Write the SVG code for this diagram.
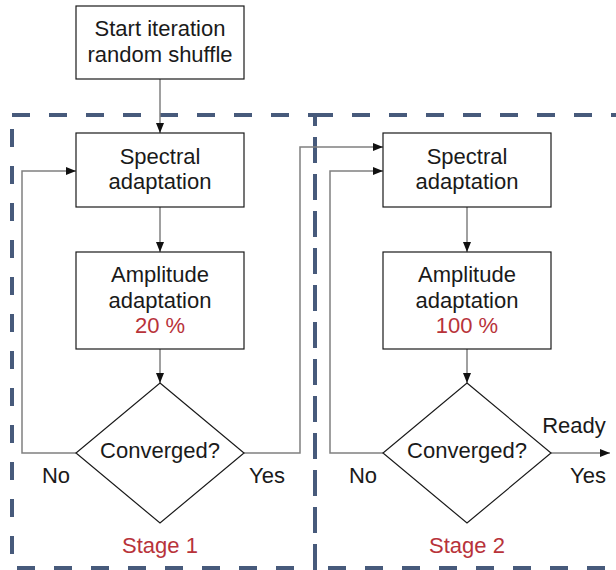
<svg xmlns="http://www.w3.org/2000/svg" width="616" height="570" viewBox="0 0 616 570">
<defs>
<style>
.box{fill:#fff;stroke:#1a1a1a;stroke-width:1.2}
.stage{fill:none;stroke:#475a7b;stroke-width:4;stroke-dasharray:18 19}
.con{fill:none;stroke:#808080;stroke-width:1.5}
.t{font-family:"Liberation Sans",Arial,sans-serif;font-size:22px;fill:#1a1a1a;text-anchor:middle}
.r{fill:#b8333a}
</style>
<marker id="ah" viewBox="0 0 10 8" refX="10" refY="4" markerWidth="10" markerHeight="8" markerUnits="userSpaceOnUse" orient="auto">
<path d="M0,0 L10,4 L0,8 z" fill="#111"/>
</marker>
</defs>
<rect width="616" height="570" fill="#fff"/>
<g id="stage1"><rect class="stage" x="12" y="115" width="303" height="453"/><text class="t r" x="160" y="553">Stage 1</text></g>
<g id="stage2"><rect class="stage" x="315" y="115" width="307" height="453"/><text class="t r" x="467" y="553">Stage 2</text></g>
<g id="connectors">
<path class="con" d="M160,79 V133" marker-end="url(#ah)"/>
<path class="con" d="M160,207 V252" marker-end="url(#ah)"/>
<path class="con" d="M160,349 V383" marker-end="url(#ah)"/>
<path class="con" d="M76,453 H22 V171 H76" marker-end="url(#ah)"/>
<path class="con" d="M244,453 H300 V147 H383" marker-end="url(#ah)"/>
<path class="con" d="M467,207 V252" marker-end="url(#ah)"/>
<path class="con" d="M467,349 V383" marker-end="url(#ah)"/>
<path class="con" d="M383,453 H330 V171 H383" marker-end="url(#ah)"/>
<path class="con" d="M551,453 H610" stroke="#222" marker-end="url(#ah)"/>
<text class="t" x="56" y="483">No</text>
<text class="t" x="267" y="483">Yes</text>
<text class="t" x="363" y="483">No</text>
<text class="t" x="588" y="483">Yes</text>
<text class="t" x="574" y="433">Ready</text>
</g>
<g id="start"><rect class="box" x="76" y="6" width="168" height="73"/><text class="t" x="160" y="36">Start iteration</text><text class="t" x="160" y="61.5">random shuffle</text></g>
<g id="spectral1"><rect class="box" x="76" y="133" width="168" height="74"/><text class="t" x="160" y="164">Spectral</text><text class="t" x="160" y="189">adaptation</text></g>
<g id="amplitude1"><rect class="box" x="76" y="252" width="168" height="97"/><text class="t" x="160" y="282">Amplitude</text><text class="t" x="160" y="308">adaptation</text><text class="t r" x="160" y="333">20 %</text></g>
<g id="converged1"><polygon class="box" points="160,383 244,453 160,523 76,453"/><text class="t" x="160" y="458">Converged?</text></g>
<g id="spectral2"><rect class="box" x="383" y="133" width="168" height="74"/><text class="t" x="467" y="164">Spectral</text><text class="t" x="467" y="189">adaptation</text></g>
<g id="amplitude2"><rect class="box" x="383" y="252" width="168" height="97"/><text class="t" x="467" y="282">Amplitude</text><text class="t" x="467" y="308">adaptation</text><text class="t r" x="467" y="333">100 %</text></g>
<g id="converged2"><polygon class="box" points="467,383 551,453 467,523 383,453"/><text class="t" x="467" y="458">Converged?</text></g>
</svg>
